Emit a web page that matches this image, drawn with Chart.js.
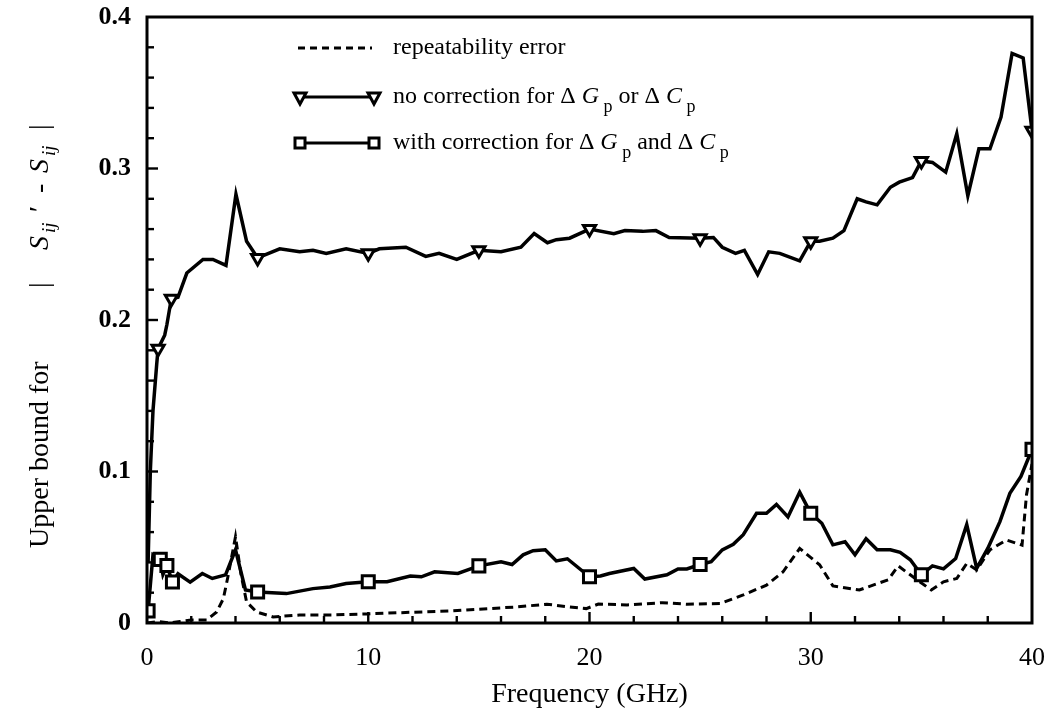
<!DOCTYPE html>
<html>
<head>
<meta charset="utf-8">
<script src="https://cdn.jsdelivr.net/npm/chart.js@4"></script>
<style>
  html, body { margin: 0; padding: 0; background: #fff; }
  #wrap { width: 1047px; height: 725px; }
</style>
</head>
<body>
<div id="wrap"><canvas id="chart" width="1047" height="725"></canvas></div>
<script>
// no correction for dGp or dCp
const noCorrFreq = [0.05, 0.15, 0.27, 0.44, 0.5, 0.8, 0.9, 1.1, 1.4, 1.8, 2.53, 2.98, 3.57, 4.02, 4.5, 5.0,
  6.0, 6.9, 7.5, 8.1, 9.0, 10.0, 10.5, 11.7, 12.6, 13.2, 14.0, 15.0, 16.0, 16.9, 17.5, 18.1, 18.5, 19.1, 20.0,
  21.1, 21.6, 22.4, 23.0, 23.6, 25.0, 25.6, 26.0, 26.6, 27.0, 27.6, 28.1, 28.6, 29.5, 30.0, 30.4, 31.0, 31.5,
  32.1, 32.5, 33.0, 33.6, 34.0, 34.6, 35.0, 35.5, 36.1, 36.6, 37.1, 37.6, 38.1, 38.6, 39.1, 39.6, 40.0];
const noCorrVal = [0.04, 0.10, 0.14, 0.171, 0.181, 0.19, 0.197, 0.214, 0.215, 0.231, 0.240, 0.240, 0.236, 0.283, 0.252, 0.241,
  0.247, 0.245, 0.246, 0.244, 0.247, 0.244, 0.247, 0.248, 0.242, 0.244, 0.240, 0.246, 0.245, 0.248, 0.257, 0.251, 0.253, 0.254, 0.260,
  0.257, 0.259, 0.2585, 0.259, 0.2545, 0.254, 0.2545, 0.248, 0.244, 0.246, 0.230, 0.245, 0.244, 0.239, 0.252, 0.252, 0.254, 0.259,
  0.280, 0.278, 0.276, 0.2876, 0.291, 0.294, 0.305, 0.304, 0.2976, 0.323, 0.282, 0.313, 0.313, 0.334, 0.376, 0.373, 0.325];
const noCorrMarks = [0.5, 1.1, 5, 10, 15, 20, 25, 30, 35, 40];

// with correction for dGp and dCp
const withCorrFreq = [0.05, 0.27, 0.6, 0.72, 0.9, 1.15, 1.4, 1.95, 2.5, 2.95, 3.55, 4.0, 4.45, 5.0, 6.3, 7.5, 8.27, 9.0,
  10.0, 10.85, 11.9, 12.4, 13.0, 14.05, 15.0, 16.0, 16.5, 17.0, 17.45, 18.0, 18.5, 19.0, 20.0, 20.5, 20.9, 22.0, 22.5,
  23.5, 24.0, 24.4, 25.0, 25.5, 26.0, 26.5, 26.95, 27.55, 28.0, 28.45, 28.97, 29.5, 30.0, 30.5, 31.0, 31.55, 32.0, 32.5,
  33.0, 33.6, 34.04, 34.5, 35.0, 35.5, 36.0, 36.55, 37.05, 37.5, 38.0, 38.55, 39.0, 39.5, 40.0];
const withCorrVal = [0.008, 0.045, 0.042, 0.032, 0.038, 0.027, 0.0325, 0.027, 0.0327, 0.0294, 0.0318, 0.0483, 0.0218, 0.0205, 0.0194, 0.0227, 0.0238, 0.026,
  0.0272, 0.0272, 0.031, 0.0305, 0.0338, 0.0327, 0.0377, 0.0404, 0.0386, 0.045, 0.0477, 0.0483, 0.041, 0.0424, 0.0305, 0.031, 0.0327, 0.036, 0.029,
  0.0318, 0.0357, 0.0357, 0.0386, 0.0404, 0.0483, 0.0519, 0.0583, 0.0724, 0.0724, 0.0783, 0.070, 0.0863, 0.0724, 0.0658, 0.0516, 0.0536, 0.045, 0.0556,
  0.0483, 0.0483, 0.0466, 0.0417, 0.0318, 0.0377, 0.0357, 0.0426, 0.0649, 0.036, 0.0492, 0.0669, 0.0856, 0.0967, 0.1146];
const withCorrMarks = [0.05, 0.6, 0.9, 1.15, 5, 10, 15, 20, 25, 30, 35, 40];

// repeatability error
const repFreq = [0, 0.5, 1.0, 1.5, 2.0, 2.7, 3.15, 3.45, 3.65, 4.0, 4.25, 4.5, 4.95, 5.7, 6.9, 8.4, 9.93, 11.4, 13.7, 15.2,
  16.7, 18.07, 19.1, 19.85, 20.4, 21.7, 23.3, 24.4, 25.9, 26.95, 28.0, 28.75, 29.5, 30.4, 31.0, 32.2, 33.5, 33.95, 34.8,
  35.45, 36.0, 36.6, 37.05, 37.5, 38.1, 38.85, 39.55, 39.75, 40.0];
const repVal = [0, 0.001, 0, 0.001, 0.002, 0.002, 0.0073, 0.016, 0.03, 0.057, 0.032, 0.014, 0.0073, 0.004, 0.0053, 0.0053, 0.006, 0.0068, 0.0079, 0.0093,
  0.0106, 0.0124, 0.0106, 0.0095, 0.0125, 0.0119, 0.0134, 0.0124, 0.0128, 0.0185, 0.025, 0.0338, 0.0492, 0.0384, 0.0245, 0.0218, 0.0285, 0.0377, 0.0285,
  0.0218, 0.0272, 0.0294, 0.0393, 0.035, 0.0483, 0.0548, 0.0514, 0.0845, 0.105];

const xTicks = [0, 10, 20, 30, 40];
const yTicks = [0, 0.1, 0.2, 0.3, 0.4];

const SERIF = "'Liberation Serif', 'Times New Roman', serif";

function toPoints(xs, ys) {
  return xs.map((x, i) => ({ x: x, y: ys[i] }));
}

function markerRadius(marks, r) {
  return ctx => (ctx.raw && marks.includes(ctx.raw.x)) ? r : 0;
}

// draws a run of text pieces: {t, font, dy, at}
function drawRich(ctx, parts, x, y) {
  parts.forEach(p => {
    ctx.font = p.font;
    const px = p.at !== undefined ? x + p.at : x;
    ctx.fillText(p.t, px, y + (p.dy || 0));
    if (p.at === undefined) x += ctx.measureText(p.t).width;
  });
}

const frame = {
  id: 'frame',
  afterDraw(chart) {
    const ctx = chart.ctx;
    const a = chart.chartArea;
    const xs = chart.scales.x;
    const ys = chart.scales.y;
    ctx.save();
    ctx.strokeStyle = '#000';
    ctx.fillStyle = '#000';
    ctx.lineWidth = 3;
    ctx.strokeRect(a.left, a.top, a.right - a.left, a.bottom - a.top);

    // inward ticks on bottom and left
    ctx.lineWidth = 2.4;
    for (let f = 2; f < 40; f += 2) {
      const px = xs.getPixelForValue(f);
      const len = f % 10 === 0 ? 11 : 7;
      ctx.beginPath();
      ctx.moveTo(px, a.bottom);
      ctx.lineTo(px, a.bottom - len);
      ctx.stroke();
    }
    for (let k = 1; k < 20; k++) {
      const py = ys.getPixelForValue(k * 0.02);
      const len = k % 5 === 0 ? 11 : 7;
      ctx.beginPath();
      ctx.moveTo(a.left, py);
      ctx.lineTo(a.left + len, py);
      ctx.stroke();
    }

    // axis titles
    ctx.textBaseline = 'alphabetic';
    ctx.textAlign = 'center';
    ctx.font = '28px ' + SERIF;
    ctx.fillText('Frequency (GHz)', (a.left + a.right) / 2, 702);

    ctx.save();
    ctx.translate(48, 548);
    ctx.rotate(-Math.PI / 2);
    ctx.textAlign = 'left';
    const reg = '28px ' + SERIF;
    const it = 'italic 28px ' + SERIF;
    const sub = 'italic 19px ' + SERIF;
    drawRich(ctx, [
      { t: 'Upper bound for', font: reg, at: 0 },
      { t: '|', font: reg, at: 260 },
      { t: 'S', font: it, at: 298 },
      { t: 'ij', font: sub, dy: 7, at: 315 },
      { t: '\u2032', font: reg, at: 336 },
      { t: '-', font: reg, at: 355 },
      { t: 'S', font: it, at: 375 },
      { t: 'ij', font: sub, dy: 7, at: 392 },
      { t: '|', font: reg, at: 418 }
    ], 0, 0);
    ctx.restore();

    // legend
    const lx1 = 300, lx2 = 374, tx = 393;
    const rows = [48, 97, 143];
    ctx.lineWidth = 2.8;
    ctx.setLineDash([7, 5]);
    ctx.beginPath();
    ctx.moveTo(lx1 - 2, rows[0]);
    ctx.lineTo(lx2 - 2, rows[0]);
    ctx.stroke();
    ctx.setLineDash([]);
    [1, 2].forEach(r => {
      ctx.beginPath();
      ctx.moveTo(lx1, rows[r]);
      ctx.lineTo(lx2, rows[r]);
      ctx.stroke();
    });
    ctx.fillStyle = '#fff';
    ctx.lineWidth = 3;
    [lx1, lx2].forEach(px => {
      const cy = rows[1];
      ctx.beginPath();
      ctx.moveTo(px - 6, cy - 4);
      ctx.lineTo(px + 6, cy - 4);
      ctx.lineTo(px, cy + 7);
      ctx.closePath();
      ctx.fill();
      ctx.stroke();
      ctx.fillRect(px - 5, rows[2] - 5, 10, 10);
      ctx.strokeRect(px - 5, rows[2] - 5, 10, 10);
    });
    ctx.fillStyle = '#000';
    ctx.textBaseline = 'middle';
    ctx.textAlign = 'left';
    const f24 = '24px ' + SERIF;
    const i24 = 'italic 24px ' + SERIF;
    const s18 = '18px ' + SERIF;
    drawRich(ctx, [{ t: 'repeatability error', font: f24 }], tx, rows[0]);
    drawRich(ctx, [
      { t: 'no correction for \u0394 ', font: f24 },
      { t: 'G', font: i24 },
      { t: ' p', font: s18, dy: 10 },
      { t: ' or \u0394 ', font: f24 },
      { t: 'C', font: i24 },
      { t: ' p', font: s18, dy: 10 }
    ], tx, rows[1]);
    drawRich(ctx, [
      { t: 'with correction for \u0394 ', font: f24 },
      { t: 'G', font: i24 },
      { t: ' p', font: s18, dy: 10 },
      { t: ' and \u0394 ', font: f24 },
      { t: 'C', font: i24 },
      { t: ' p', font: s18, dy: 10 }
    ], tx, rows[2]);
    ctx.restore();
  }
};

new Chart(document.getElementById('chart'), {
  type: 'line',
  data: {
    datasets: [
      {
        label: 'repeatability error',
        data: toPoints(repFreq, repVal),
        borderColor: '#000',
        borderWidth: 3,
        borderDash: [8, 5],
        pointRadius: 0,
        tension: 0
      },
      {
        label: 'no correction',
        data: toPoints(noCorrFreq, noCorrVal),
        borderColor: '#000',
        borderWidth: 3.5,
        pointStyle: 'triangle',
        rotation: 180,
        pointRadius: markerRadius(noCorrMarks, 7),
        pointBackgroundColor: '#fff',
        pointBorderColor: '#000',
        pointBorderWidth: 3,
        tension: 0
      },
      {
        label: 'with correction',
        data: toPoints(withCorrFreq, withCorrVal),
        borderColor: '#000',
        borderWidth: 3.5,
        pointStyle: 'rect',
        pointRadius: markerRadius(withCorrMarks, 8.5),
        pointBackgroundColor: '#fff',
        pointBorderColor: '#000',
        pointBorderWidth: 3,
        tension: 0
      }
    ]
  },
  options: {
    responsive: false,
    animation: false,
    devicePixelRatio: 1,
    layout: { padding: { top: 17, right: 15, left: 0, bottom: 0 } },
    plugins: { legend: { display: false }, tooltip: { enabled: false } },
    scales: {
      x: {
        type: 'linear',
        min: 0,
        max: 40,
        afterFit: s => { s.height = 102; s.paddingLeft = 0; s.paddingRight = 0; },
        afterBuildTicks: s => { s.ticks = xTicks.map(v => ({ value: v })); },
        grid: { display: false },
        border: { display: false },
        ticks: { color: '#000', padding: 12, font: { family: SERIF, size: 26 } }
      },
      y: {
        min: 0,
        max: 0.4,
        afterFit: s => { s.width = 147; s.paddingTop = 0; s.paddingBottom = 0; },
        afterBuildTicks: s => { s.ticks = yTicks.map(v => ({ value: v })); },
        grid: { display: false },
        border: { display: false },
        ticks: { color: '#000', padding: 8, font: { family: SERIF, size: 26, weight: 'bold' } }
      }
    }
  },
  plugins: [frame]
});
</script>
</body>
</html>
